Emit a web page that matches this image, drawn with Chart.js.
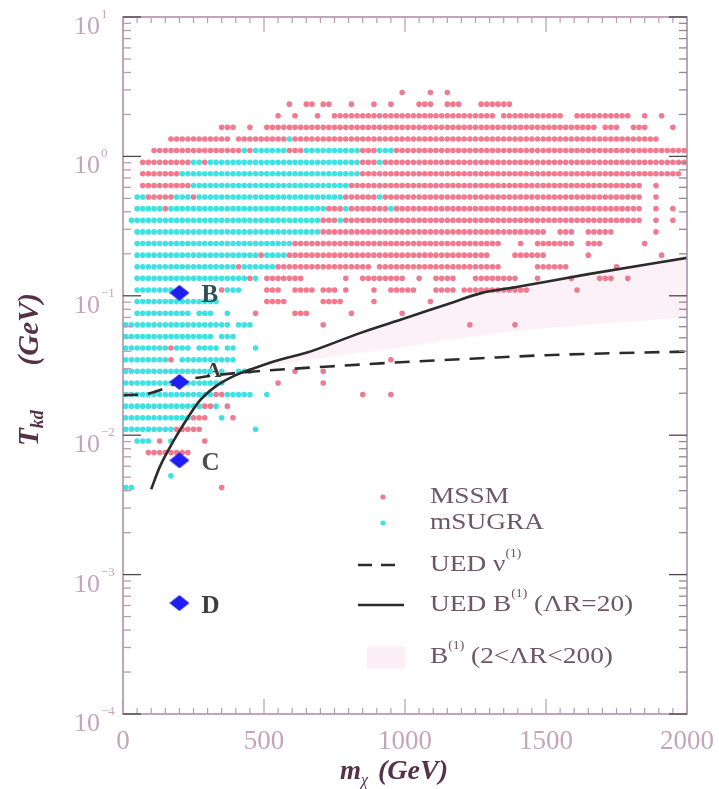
<!DOCTYPE html>
<html>
<head>
<meta charset="utf-8">
<title>Kinetic decoupling temperature vs WIMP mass</title>
<script src="https://cdn.jsdelivr.net/npm/chart.js@4/dist/chart.umd.min.js"></script>
<style>
  html, body { margin: 0; padding: 0; background: #ffffff; }
  canvas { display: block; }
</style>
</head>
<body>
<canvas id="chart" width="719" height="789"></canvas>
<script>
// ---- data -------------------------------------------------------------
// Scan grid: one string per T_kd row, one character per 20 GeV mass column
// (column j sits at 10 + 20*j GeV). 'm' = MSSM point, 's' = mSUGRA point.
const rowT = [
  2.873, 2.371, 1.957, 1.616, 1.334, 1.101, 0.9085, 0.7499, 0.6190, 0.5109,
  0.4217, 0.3481, 0.2873, 0.2371, 0.1957, 0.1616, 0.1334, 0.1101, 0.09085, 0.07499,
  0.06190, 0.05109, 0.04217, 0.03481, 0.02873, 0.02371, 0.01957, 0.01616, 0.01334, 0.01101,
  0.009085, 0.007499, 0.006190, 0.005109, 0.004217
];
const scanRows = [
  ".......... .......... .......... .......... .........m ....m..m.. .......... .......... .......... ..........",
  ".......... .......... .........m ..mm.mm... m...m..m.. ..mmm..mmm ...mmmmmm. .......... .......... ..........",
  ".......... .......... .......m.. m...m..mmm mmmmmmmmmm mmmmmmmmmm mmmmmm.mmm mmmmmmmm.. mmmmmmmmmm ..m..m....",
  ".......... .......mmm ..m..mmmmm mmmmmmmmmm mmmmmmmmmm mmmmmmmmmm mmmmmmmmmm mmmmmmmmmm mmmm.mmm.. mmm....m..",
  "........mm mmmmmmmmm. mmmmmmmmms mmmmmmmmmm mmmmmmmmmm mmmmmmmmmm mmmmmmmmmm mmmmmmmmmm mmmmmmmmmm mmmmm.....",
  ".....mmmmm mmmmmmmmmm msmssssssm mmssssssss ssmmmsssmm mmmmmmmmmm mmmmmmmmmm mmmmmmmmmm mmmmmmmmmm mmmmmmmmmm",
  "...mmmmmmm mmssmsssss ssssssssss ssssssssss ssmmmsmmmm mmmmmmmmmm mmmmmmmmmm mmmmmmmmmm mmmmmmmmmm mmmmmmmmmm",
  "...mmmmmmm ssssssssss ssssssssss ssssssssss ssmmmmmmmm mmmmmmmmmm mmmmmmmmmm mmmmmmmmmm mmmmmmmmmm mmmmmmmmm.",
  "...mmmmmmm mmssssssss ssssssssss ssssssssss mmmmmmmmmm mmmmmmmmmm mmmmmmmmmm mmmmmmmmmm mmmmmmmmmm mm..m.....",
  "..ssmmmmms ssmsssssss ssssssssss sssssssssm mmmmmsmmmm mmmmmmmmmm mmmmmmmmmm mmmmmmmmmm mmmmmmmmmm mm..m.....",
  "..sssssmss ssssssssss ssssssssss ssssssmmms mmmmmmmsmm mmmmmmmmmm mmmmmmmmmm mmmmmmmmmm mmmmmmmmmm mm..m..m..",
  ".sssssssss ssssssssss ssssssssss sssssmmmsm mmmmmmmmmm mmmmmmmmmm mmmmmmmmmm mmmmmmmmmm mmmmmmmmmm mm..m..m..",
  "..ssssssss ssssssssss ssssssssss sssssmmmmm mmmmmmmmmm mmmmmmmmmm mmmmmmmmmm mmmmm..mmm ..mmmmm... ....m.....",
  "..ssssssss ssssssssss ssssssssss mmmmmmmmmm mmmmmmmmmm mmmmmmmmmm mmmmmmm... m..mmmmmmm ..mmm..... ..m.......",
  "..ssssssss ssssssssss ssssmssssm mmmmmmmmmm mmmmmmmmmm mmmmmmmmmm mmmmm....m mmmmm..... ..m....... .....m....",
  "..ssssssss ssssssssss mssssssmmm mmmmmmmmmm mmmm.mmmmm mmmmmmmmmm mmmmmmm... ...mmmmmm. .......m.. ..........",
  "..ssssssss ssssssssss ssms.mmmmm mm.......m ..mmmmmmmm ..m..mmmm. ..mmmmmmmm ...m.....m ....mmm..m ..........",
  "..sssssss. .......mss s....mmm.. mmmm.mmm.m ....m..mmm mm...mmmm. mmmmmmmmmm mm........ m......... ..........",
  "..ssssssss sssssss... .....mmmm. .....mmmm. ....m..... ....m..... .......... .......... .......... ..........",
  "..ssssssss ss.sss..s. ...m...... mmm....... m........m .......... .......... .......... .......... ..........",
  "ssssssssss sssssssss. sss....... .....m.... .......... .......... .m.......m .......... .......... ..........",
  "ssssssssss ssssss.sss .......... .......... .......... .......... .......... .......... .......... ..........",
  "ssssssssms ss.ssss.ss ...s...... .......... .......... .......... .......... .......... .......... ..........",
  "ssssssssm. ssssssssss .......... .......... .......m.. .......... .......... .......... .......... ..........",
  "ssssssssss ssssss.s.. sss....... m....m.... .......... .......... .......... .......... .......... ..........",
  "ssssssssss ssssssss.. .......m.. .....m.... .......... .......... .......... .......... .......... ..........",
  "ssssssssss ssssssmmss sss..s.... .......... ..m....m.. .......... .......... .......... .......... ..........",
  "ssssssssss ssssmms.m. .......... .......... .......... .......... .......... .......... .......... ..........",
  "ssssssssss ssmmm..s.m .......... .......... .......... .......... .......... .......... .......... ..........",
  "sssssssssm mmmm...... ...s...... .......... .......... .......... .......... .......... .......... ..........",
  "..sss.m.s. ....m..... .......... .......... .......... .......... .......... .......... .......... ..........",
  "....mmmmmm mm........ .......... .......... .......... .......... .......... .......... .......... ..........",
  ".......... .......... .......... .......... .......... .......... .......... .......... .......... ..........",
  "........s. .......... .......... .......... .......... .......... .......... .......... .......... ..........",
  "ss........ .......m.. .......... .......... .......... .......... .......... .......... .......... .........."
];

// UED nu(1) curve
const nuMass = [0, 80, 130, 175, 230, 300, 400, 500, 750, 1000, 1250, 1500, 1750, 2000];
const nuT    = [0.0194, 0.0197, 0.0210, 0.0229, 0.0250, 0.0265, 0.0279, 0.0290, 0.0313, 0.0335, 0.0355, 0.0375, 0.0388, 0.0398];

// UED B(1) curve, Lambda R = 20
const bMass = [100, 130, 175, 225, 270, 330, 400, 460, 550, 650, 840, 1000, 1150, 1270, 1400, 1650, 2000];
const bT    = [0.0041, 0.0059, 0.0088, 0.0129, 0.0175, 0.0225, 0.0270, 0.0300, 0.0345, 0.0390, 0.0540, 0.0690, 0.0870, 0.1045, 0.1160, 0.1430, 0.1870];

// B(1) band, 2 < Lambda R < 200
const bandMass = [460, 550, 650, 840, 1000, 1150, 1270, 1400, 1650, 2000];
const bandHi   = [0.0300, 0.0345, 0.0390, 0.0540, 0.0690, 0.0870, 0.1045, 0.1160, 0.1430, 0.1870];
const bandLo   = [0.0300, 0.0320, 0.0345, 0.0390, 0.0430, 0.0480, 0.0520, 0.0560, 0.0620, 0.0700];

// Benchmark models
const benchNames = ["B", "A", "C", "D"];
const benchMass  = [200, 200, 200, 200];
const benchT     = [0.105, 0.0241, 0.0066, 0.000625];

// Axis labels
const xTickLabels = [0, 500, 1000, 1500, 2000];
const yExponents  = [1, 0, -1, -2, -3, -4];

// ---- styling ----------------------------------------------------------
const SERIF = '"Liberation Serif", "DejaVu Serif", "Times New Roman", serif';
const MSSM_COLOR = "#f07a8f";
const SUGRA_COLOR = "#3fe2e2";
const BAND_COLOR = "rgba(246, 205, 226, 0.28)";
const FRAME_COLOR = "#a98aa2";
const MINOR_TICK = "#b99bb1";
const MAJOR_TICK = "#4a4a4a";
const TICK_LABEL = "#c4a6bb";
const TITLE_COLOR = "#553248";
const LEGEND_TEXT = "#6d5668";

// ---- build point lists ------------------------------------------------
const mssmPts = [];
const sugraPts = [];
scanRows.forEach((row, k) => {
  const cells = row.replace(/ /g, "");
  for (let j = 0; j < cells.length; j++) {
    const c = cells[j];
    if (c === "m") mssmPts.push({ x: 10 + 20 * j, y: rowT[k] });
    else if (c === "s") sugraPts.push({ x: 10 + 20 * j, y: rowT[k] });
  }
});
const pairs = (xs, ys) => xs.map((v, i) => ({ x: v, y: ys[i] }));

// diamond marker for the benchmark models
const diamond = document.createElement("canvas");
diamond.width = 20; diamond.height = 16;
(function () {
  const g = diamond.getContext("2d");
  g.fillStyle = "#1e1ef2";
  g.beginPath();
  g.moveTo(10, 0); g.lineTo(20, 8); g.lineTo(10, 16); g.lineTo(0, 8);
  g.closePath(); g.fill();
})();

// ---- text helpers -----------------------------------------------------
function drawRuns(ctx, x, y, runs) {
  let cx = x;
  for (const r of runs) {
    ctx.font = r.font;
    ctx.fillStyle = r.color;
    ctx.fillText(r.t, cx, y + (r.dy || 0));
    cx += ctx.measureText(r.t).width + (r.gap || 0);
  }
  return cx - x;
}

function runsWidth(ctx, runs) {
  let w = 0;
  for (const r of runs) { ctx.font = r.font; w += ctx.measureText(r.t).width + (r.gap || 0); }
  return w;
}

function tickLine(ctx, x1, y1, x2, y2, color, w) {
  ctx.strokeStyle = color;
  ctx.lineWidth = w;
  ctx.beginPath();
  ctx.moveTo(x1, y1);
  ctx.lineTo(x2, y2);
  ctx.stroke();
}

// legend text is set slightly wide
function legendText(ctx, x, y, runs) {
  ctx.save();
  ctx.translate(x, y);
  ctx.scale(1.14, 1);
  drawRuns(ctx, 0, 0, runs);
  ctx.restore();
}

// ---- decorations: frame, ticks, labels, titles, legend ----------------
const decorations = {
  id: "decorations",
  beforeDatasetsDraw(chart) {
    // label of benchmark A sits underneath the scan points
    const { ctx, scales: { x, y } } = chart;
    ctx.save();
    ctx.textBaseline = "middle";
    ctx.font = "bold 22px " + SERIF;
    ctx.fillStyle = "#3a3a3a";
    const i = benchNames.indexOf("A");
    ctx.fillText("A", x.getPixelForValue(benchMass[i]) + 26, y.getPixelForValue(benchT[i]) - 11);
    ctx.restore();
  },
  afterDatasetsDraw(chart) {
    const { ctx, chartArea: a, scales: { x, y } } = chart;
    ctx.save();

    // frame
    ctx.strokeStyle = FRAME_COLOR;
    ctx.lineWidth = 1.5;
    ctx.strokeRect(a.left, a.top, a.right - a.left, a.bottom - a.top);

    // x ticks (bottom and top, pointing inward)
    for (let m = 0; m <= 2000; m += 50) {
      const px = x.getPixelForValue(m);
      const major = m % 500 === 0;
      const len = major ? 15 : 6;
      tickLine(ctx, px, a.bottom, px, a.bottom - len, MINOR_TICK, 1.2);
      tickLine(ctx, px, a.top, px, a.top + len, MINOR_TICK, 1.2);
    }
    // y ticks (left and right)
    for (let e = -4; e <= 1; e++) {
      for (let d = 1; d <= 9; d++) {
        if (e === 1 && d > 1) break;
        const py = y.getPixelForValue(d * Math.pow(10, e));
        const major = d === 1;
        const len = major ? 18 : 8;
        const col = major ? MAJOR_TICK : MINOR_TICK;
        tickLine(ctx, a.left, py, a.left + len, py, col, 1.3);
        tickLine(ctx, a.right, py, a.right - len, py, major ? MAJOR_TICK : "#8f8a8e", 1.3);
      }
    }

    // x tick labels
    ctx.textAlign = "center";
    ctx.textBaseline = "alphabetic";
    ctx.font = "27px " + SERIF;
    ctx.fillStyle = TICK_LABEL;
    xTickLabels.forEach(v => ctx.fillText(String(v), x.getPixelForValue(v), 749));

    // y tick labels 10^n
    yExponents.forEach(e => {
      const py = y.getPixelForValue(Math.pow(10, e));
      ctx.textAlign = "right";
      ctx.font = "26px " + SERIF;
      ctx.fillStyle = TICK_LABEL;
      ctx.fillText("10", 100, py + 17);
      ctx.textAlign = "left";
      ctx.font = "13px " + SERIF;
      ctx.fillText(e < 0 ? "\u2212" + Math.abs(e) : String(e), 101, py + 1);
    });

    // axis titles
    ctx.textAlign = "left";
    ctx.textBaseline = "alphabetic";
    drawRuns(ctx, 340, 779, [
      { t: "m", font: "bold italic 27px " + SERIF, color: TITLE_COLOR },
      { t: "\u03c7", font: "italic 16px " + SERIF, color: TITLE_COLOR, dy: 6, gap: 3 },
      { t: " (GeV)", font: "bold italic 28px " + SERIF, color: TITLE_COLOR }
    ]);
    ctx.save();
    ctx.translate(38, 446);
    ctx.rotate(-Math.PI / 2);
    drawRuns(ctx, 0, 0, [
      { t: "T", font: "bold italic 29px " + SERIF, color: TITLE_COLOR },
      { t: "kd", font: "bold italic 18px " + SERIF, color: TITLE_COLOR, dy: 5 }
    ]);
    const gev = [{ t: "(GeV)", font: "bold italic 29px " + SERIF, color: TITLE_COLOR }];
    drawRuns(ctx, 446 - 293 - runsWidth(ctx, gev), 0, gev);
    ctx.restore();

    // benchmark letters
    ctx.textAlign = "left";
    ctx.textBaseline = "middle";
    ctx.font = "bold 25px " + SERIF;
    const letterColor = { B: "#2e5058", C: "#4e4e4e", D: "#3e3e3e" };
    benchNames.forEach((n, i) => {
      if (n === "A") return;
      ctx.fillStyle = letterColor[n];
      ctx.fillText(n, x.getPixelForValue(benchMass[i]) + 22, y.getPixelForValue(benchT[i]) + 3);
    });

    // legend
    const tx = 430;
    const rows = { mssm: 497, sugra: 523, nu: 565, b: 605, band: 657 };
    ctx.fillStyle = MSSM_COLOR;
    ctx.beginPath(); ctx.arc(383, rows.mssm, 2.6, 0, Math.PI * 2); ctx.fill();
    ctx.fillStyle = SUGRA_COLOR;
    ctx.beginPath(); ctx.arc(383, rows.sugra, 2.6, 0, Math.PI * 2); ctx.fill();
    ctx.setLineDash([14, 9]);
    tickLine(ctx, 358, rows.nu, 404, rows.nu, "#2b2b2b", 2.6);
    ctx.setLineDash([]);
    tickLine(ctx, 358, rows.b, 404, rows.b, "#2b2b2b", 2.6);
    ctx.fillStyle = "rgba(246, 205, 226, 0.32)";
    ctx.fillRect(367, rows.band - 11, 38, 23);

    ctx.textBaseline = "middle";
    const LF = "24px " + SERIF;
    const SF = "12px " + SERIF;
    legendText(ctx, tx, rows.mssm, [{ t: "MSSM", font: LF, color: LEGEND_TEXT }]);
    legendText(ctx, tx, rows.sugra, [{ t: "mSUGRA", font: LF, color: LEGEND_TEXT }]);
    legendText(ctx, tx, rows.nu, [
      { t: "UED \u03bd", font: LF, color: LEGEND_TEXT },
      { t: "(1)", font: SF, color: LEGEND_TEXT, dy: -11 }
    ]);
    legendText(ctx, tx, rows.b, [
      { t: "UED B", font: LF, color: LEGEND_TEXT },
      { t: "(1)", font: SF, color: LEGEND_TEXT, dy: -11 },
      { t: " (\u039bR=20)", font: LF, color: LEGEND_TEXT }
    ]);
    legendText(ctx, tx, rows.band, [
      { t: "B", font: LF, color: LEGEND_TEXT },
      { t: "(1)", font: SF, color: LEGEND_TEXT, dy: -11 },
      { t: " (2<\u039bR<200)", font: LF, color: LEGEND_TEXT }
    ]);

    ctx.restore();
  }
};

// ---- chart ------------------------------------------------------------
new Chart(document.getElementById("chart"), {
  type: "scatter",
  data: {
    datasets: [
      {
        label: "band low",
        data: pairs(bandMass, bandLo),
        showLine: true, borderWidth: 0, pointRadius: 0, fill: false,
        cubicInterpolationMode: "monotone", order: 20
      },
      {
        label: "B(1) (2<\u039bR<200)",
        data: pairs(bandMass, bandHi),
        showLine: true, borderWidth: 0, pointRadius: 0,
        fill: "-1", backgroundColor: BAND_COLOR,
        cubicInterpolationMode: "monotone", order: 19
      },
      {
        label: "MSSM",
        data: mssmPts,
        pointRadius: 2.8, pointHoverRadius: 2.8, borderWidth: 0,
        backgroundColor: MSSM_COLOR, order: 10
      },
      {
        label: "mSUGRA",
        data: sugraPts,
        pointRadius: 2.8, pointHoverRadius: 2.8, borderWidth: 0,
        backgroundColor: SUGRA_COLOR, order: 9
      },
      {
        label: "UED \u03bd(1)",
        data: pairs(nuMass, nuT),
        showLine: true, pointRadius: 0, fill: false,
        borderColor: "#2b2b2b", borderWidth: 2.6, borderDash: [15, 10],
        cubicInterpolationMode: "monotone", order: 3
      },
      {
        label: "UED B(1) (\u039bR=20)",
        data: pairs(bMass, bT),
        showLine: true, pointRadius: 0, fill: false,
        borderColor: "#2b2b2b", borderWidth: 2.6,
        cubicInterpolationMode: "monotone", order: 2
      },
      {
        label: "benchmarks",
        data: pairs(benchMass, benchT),
        pointStyle: diamond, pointRadius: 10, order: 1
      }
    ]
  },
  options: {
    responsive: false,
    animation: false,
    events: [],
    layout: { padding: { left: 123, right: 32, top: 17, bottom: 75 } },
    scales: {
      x: { type: "linear", min: 0, max: 2000, display: false },
      y: { type: "logarithmic", min: 1e-4, max: 10, display: false }
    },
    plugins: {
      legend: { display: false },
      tooltip: { enabled: false },
      title: { display: false }
    }
  },
  plugins: [decorations]
});
</script>
</body>
</html>
